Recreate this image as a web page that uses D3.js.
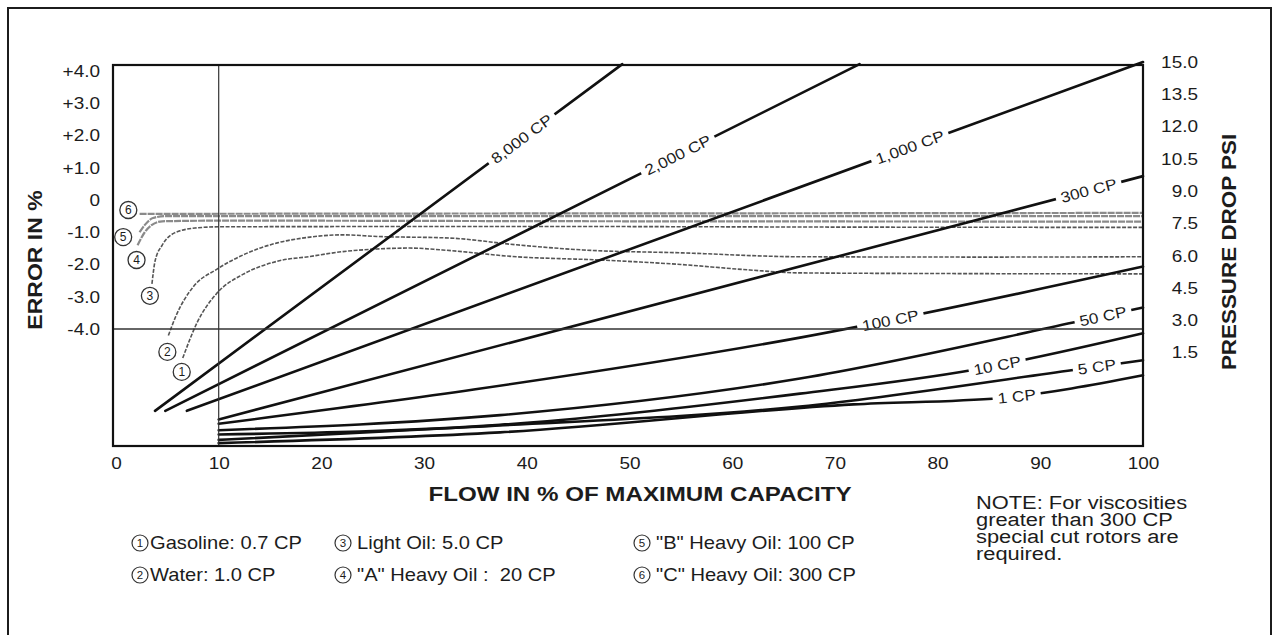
<!DOCTYPE html>
<html>
<head>
<meta charset="utf-8">
<script src="https://cdn.jsdelivr.net/npm/d3@7"></script>
<style>
  body { margin: 0; background: #fff; }
  svg { display: block; font-family: "Liberation Sans", Arial, sans-serif; }
</style>
</head>
<body>
<svg id="chart" width="1278" height="635"></svg>
<script>
// ---- data ----
const flowTicks = [0, 10, 20, 30, 40, 50, 60, 70, 80, 90, 100];
const errorTicks = [4, 3, 2, 1, 0, -1, -2, -3, -4];
const errorTickLabels = ["+4.0", "+3.0", "+2.0", "+1.0", "0", "-1.0", "-2.0", "-3.0", "-4.0"];
const psiTicks = [15, 13.5, 12, 10.5, 9, 7.5, 6, 4.5, 3, 1.5];

// error curves: [flow %, error %]
const errGasoline = [[6.5, -4.9], [7.9, -3.8], [9.8, -2.9], [12.4, -2.3], [15.7, -1.9], [18.9, -1.75], [22.1, -1.6], [25.4, -1.52], [28.6, -1.49], [31.8, -1.55], [39, -1.76], [47.1, -1.86], [55, -2.0], [61.7, -2.17], [66.6, -2.26], [80, -2.28], [100, -2.29]];
const errWater = [[5.1, -4.2], [5.9, -3.55], [7.5, -2.7], [9.8, -2.15], [12.4, -1.7], [15.7, -1.33], [18.9, -1.15], [22.1, -1.08], [25.4, -1.13], [32.5, -1.18], [39, -1.39], [45.5, -1.55], [55.2, -1.64], [66.6, -1.76], [85, -1.77], [100, -1.76]];
const errLightOil = [[3.5, -2.6], [3.8, -1.9], [4.5, -1.4], [5.7, -1.02], [7.7, -0.87], [10.1, -0.83], [40, -0.82], [70, -0.84], [100, -0.85]];
const errHeavyA = [[2.1, -1.4], [2.8, -1.0], [3.5, -0.77], [4.5, -0.66], [10, -0.64], [50, -0.66], [100, -0.67]];
const errHeavyB = [[2.3, -1.0], [2.9, -0.74], [3.6, -0.56], [4.8, -0.5], [50, -0.5], [100, -0.5]];
const errHeavyC = [[2.3, -0.43], [30, -0.42], [70, -0.41], [100, -0.4]];

// curve markers (circled numbers) at [flow, error]
const markerFlow = [6.4, 5.0, 3.3, 2.0, 0.7, 1.2];
const markerErr = [-5.33, -4.71, -2.97, -1.86, -1.15, -0.31];

// pressure drop lines: [flow %, psi]
const psi8000 = [[3.8, -1.2], [49.3, 14.9]];
const psi2000 = [[4.8, -1.2], [72.4, 14.9]];
const psi1000 = [[6.9, -1.2], [100, 15]];
const psi300 = [[10, -1.6], [100, 9.7]];
const psi100 = [[10, -1.8], [35, -0.2], [66.6, 2.2], [100, 5.5]];
const psi50 = [[10, -2.1], [37.4, -1.4], [66.6, 0.3], [93.2, 2.9], [100, 3.6]];
const psi10 = [[10, -2.3], [37.4, -1.85], [66.6, -0.4], [83.4, 0.7], [100, 2.4]];
const psi5 = [[10, -2.55], [34.5, -1.95], [66.6, -1.0], [93.2, 0.7], [100, 1.15]];
const psi1 = [[10, -2.7], [37.4, -2.2], [71.8, -0.9], [86.1, -0.6], [100, 0.45]];

const cpNames = ["8,000 CP", "2,000 CP", "1,000 CP", "300 CP", "100 CP", "50 CP", "10 CP", "5 CP", "1 CP"];
const cpLabelFlow = [39.5, 54.7, 77.3, 94.7, 75.4, 96.1, 85.8, 95.5, 87.7];

const legendNames = ["Gasoline: 0.7 CP", "Water: 1.0 CP", "Light Oil: 5.0 CP", "\"A\" Heavy Oil :  20 CP", "\"B\" Heavy Oil: 100 CP", "\"C\" Heavy Oil: 300 CP"];
const noteLines = ["NOTE: For viscosities", "greater than 300 CP", "special cut rotors are", "required."];

// ---- setup ----
const SX = 1.15; // scanned glyphs are a little wide
const ink = "#1c1c1c";
const svg = d3.select("#chart");
const frame = { left: 113, right: 1143, top: 65, bottom: 446 };

const x = d3.scaleLinear().domain([0, 100]).range([116, 1143]);
const yErr = d3.scaleLinear().domain([-4, 4]).range([329, 71]);
const yPsi = d3.scaleLinear().domain([0, 15]).range([385, 62]);

function label(g, px, py, str, size, weight, anchor, rot) {
    return g.append("text")
        .attr("transform", `translate(${px},${py}) rotate(${rot || 0}) scale(${SX},1)`)
        .attr("text-anchor", anchor || "start")
        .attr("font-size", size)
        .attr("font-weight", weight || "normal")
        .attr("fill", ink)
        .style("white-space", "pre")
        .text(str);
}

// outer page border
svg.append("rect")
    .attr("x", 8).attr("y", 8)
    .attr("width", 1263).attr("height", 680)
    .attr("fill", "none").attr("stroke", ink).attr("stroke-width", 2);

const plot = svg.append("g");

// error curves
const errLine = d3.line()
    .x(d => x(d[0]))
    .y(d => yErr(d[1]))
    .curve(d3.curveMonotoneX);

[errHeavyC, errHeavyB, errHeavyA].forEach(s => {
    plot.append("path").attr("d", errLine(s))
        .attr("fill", "none").attr("stroke", "#8a8a8a")
        .attr("stroke-width", 2.2).attr("stroke-dasharray", "7 1");
});
[errLightOil, errWater, errGasoline].forEach(s => {
    plot.append("path").attr("d", errLine(s))
        .attr("fill", "none").attr("stroke", "#555")
        .attr("stroke-width", 1.6).attr("stroke-dasharray", "4 1.5");
});

// pressure lines
const psiLine = d3.line()
    .x(d => x(d[0]))
    .y(d => yPsi(d[1]))
    .curve(d3.curveMonotoneX);

const psiSeries = [psi8000, psi2000, psi1000, psi300, psi100, psi50, psi10, psi5, psi1];
const psiPaths = psiSeries.map(s => plot.append("path").attr("d", psiLine(s))
    .attr("fill", "none").attr("stroke", "#111")
    .attr("stroke-width", 2.6).attr("stroke-linecap", "round"));

// find point on a path at a given screen x
function pointAtX(node, px) {
    let lo = 0, hi = node.getTotalLength();
    for (let i = 0; i < 30; i++) {
        const mid = (lo + hi) / 2;
        if (node.getPointAtLength(mid).x < px) lo = mid; else hi = mid;
    }
    return lo;
}

// labels on the pressure lines, with a white gap behind them
psiPaths.forEach((p, i) => {
    const node = p.node();
    const len = pointAtX(node, x(cpLabelFlow[i]));
    const c = node.getPointAtLength(len);
    const a = node.getPointAtLength(Math.max(0, len - 6));
    const b = node.getPointAtLength(Math.min(node.getTotalLength(), len + 6));
    const ang = Math.atan2(b.y - a.y, b.x - a.x) * 180 / Math.PI;
    const g = plot.append("g").attr("transform", `translate(${c.x},${c.y}) rotate(${ang})`);
    const t = g.append("text")
        .attr("transform", `scale(${SX},1)`)
        .attr("text-anchor", "middle").attr("dy", "0.36em")
        .attr("font-size", 15).attr("fill", ink)
        .text(cpNames[i]);
    const w = t.node().getComputedTextLength() * SX;
    g.insert("rect", "text")
        .attr("x", -w / 2 - 5).attr("y", -6)
        .attr("width", w + 10).attr("height", 12)
        .attr("fill", "#fff");
});

// reference lines: 10% flow and -4% error
plot.append("line")
    .attr("x1", x(10)).attr("x2", x(10))
    .attr("y1", frame.top).attr("y2", frame.bottom)
    .attr("stroke", "#333").attr("stroke-width", 1.2);
plot.append("line")
    .attr("x1", frame.left).attr("x2", frame.right)
    .attr("y1", yErr(-4)).attr("y2", yErr(-4))
    .attr("stroke", "#333").attr("stroke-width", 1.4);

// plot frame
plot.append("rect")
    .attr("x", frame.left).attr("y", frame.top)
    .attr("width", frame.right - frame.left).attr("height", frame.bottom - frame.top)
    .attr("fill", "none").attr("stroke", "#111").attr("stroke-width", 2.2);

// circled curve numbers
markerFlow.forEach((f, i) => {
    const cx = x(f), cy = yErr(markerErr[i]);
    plot.append("circle").attr("cx", cx).attr("cy", cy).attr("r", 8.5)
        .attr("fill", "#fff").attr("stroke", "#333").attr("stroke-width", 1.3);
    plot.append("text").attr("x", cx).attr("y", cy).attr("dy", "0.36em")
        .attr("text-anchor", "middle").attr("font-size", 12).attr("fill", ink)
        .text(i + 1);
});

// axes
function styleTicks(g) {
    g.attr("font-size", 16.5).attr("font-family", null);
    g.select(".domain").remove();
    g.selectAll("text").each(function () {
        const t = d3.select(this);
        const tx = +t.attr("x") || 0;
        const ty = +t.attr("y") || 0;
        t.attr("transform", `translate(${tx},${ty}) scale(${SX},1)`).attr("x", 0).attr("y", 0)
            .attr("fill", ink);
    });
}

svg.append("g")
    .attr("transform", "translate(100,0)")
    .call(d3.axisLeft(yErr).tickValues(errorTicks)
        .tickFormat((d, i) => errorTickLabels[i]).tickSize(0).tickPadding(0))
    .call(styleTicks);

svg.append("g")
    .attr("transform", "translate(1198,0)")
    .call(d3.axisLeft(yPsi).tickValues(psiTicks).tickFormat(d3.format(".1f")).tickSize(0).tickPadding(0))
    .call(styleTicks);

svg.append("g")
    .attr("transform", `translate(0,${frame.bottom})`)
    .call(d3.axisBottom(x).tickValues(flowTicks).tickSize(0).tickPadding(11))
    .call(styleTicks);

// axis titles
label(svg, 640, 501, "FLOW IN % OF MAXIMUM CAPACITY", 21, "bold", "middle");
label(svg, 42, 260, "ERROR IN %", 20, "bold", "middle", -90);
label(svg, 1236, 252, "PRESSURE DROP PSI", 19.5, "bold", "middle", -90);

// legend
const legendCols = [140, 343, 642];
const legendRows = [549, 581];
legendNames.forEach((name, i) => {
    const col = Math.floor(i / 2), row = i % 2;
    const cx = legendCols[col], cy = legendRows[row] - 6;
    svg.append("circle").attr("cx", cx).attr("cy", cy).attr("r", 8)
        .attr("fill", "#fff").attr("stroke", "#333").attr("stroke-width", 1.2);
    svg.append("text").attr("x", cx).attr("y", cy).attr("dy", "0.36em")
        .attr("text-anchor", "middle").attr("font-size", 11.5).attr("fill", ink)
        .text(i + 1);
    label(svg, cx + (col === 0 ? 10 : 14), legendRows[row], name, 17.5);
});

// note
noteLines.forEach((line, i) => {
    label(svg, 976, 509 + i * 17, line, 19);
});
</script>
</body>
</html>
